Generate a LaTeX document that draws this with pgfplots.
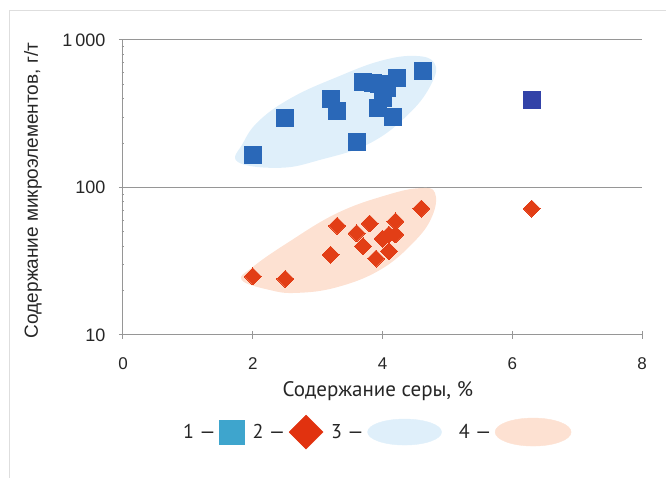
\documentclass[border=0pt]{standalone}
\usepackage{pgfplots}
\pgfplotsset{compat=1.18}
\usepackage{fontspec}
\setmainfont{Liberation Sans}
\newfontfamily\ptsans{PT Sans}
\definecolor{bsq}{RGB}{42,104,184}
\definecolor{navysq}{RGB}{50,66,168}
\definecolor{rdi}{RGB}{226,62,22}
\definecolor{bfill}{RGB}{223,239,250}
\definecolor{rfill}{RGB}{253,225,210}
\definecolor{lsq}{RGB}{62,165,205}
\definecolor{ldi}{RGB}{225,50,15}
\definecolor{axgray}{RGB}{150,150,150}
\definecolor{framegray}{RGB}{222,222,222}
\begin{document}
\begin{tikzpicture}
\useasboundingbox (0,0) rectangle (666pt,478pt);
\begin{axis}[
  at={(123pt,143pt)}, anchor=south west,
  width=519pt, height=295pt, scale only axis,
  xmin=0, xmax=8, ymode=log, ymin=10, ymax=1000,
  xtick={0,2,4,6,8}, ytick={10,100,1000},
  yticklabels={10,100,1\,000},
  axis x line*=bottom, axis y line*=left,
  ymajorgrids=true,
  grid style={axgray, line width=1pt},
  axis line style={axgray, line width=1pt},
  tick style={axgray, line width=1pt},
  tick align=center, major tick length=8pt,
  /pgf/number format/assume math mode=true,
  tick label style={font=\fontsize{17}{17}\selectfont, text=black!85},
  xticklabel style={yshift=-15pt},
  yticklabel style={font=\fontsize{18}{18}\selectfont, xshift=-10pt},
  xlabel={Содержание серы, \%},
  xlabel style={font=\ptsans\fontsize{21}{21}\selectfont, text=black!85, at={(axis description cs:0.491,-0.19)}, anchor=center},
  ylabel={Содержание микроэлементов, г/т},
  ylabel style={font=\fontsize{19}{19}\selectfont, text=black!85, at={(axis description cs:-0.1734,0.49)}, anchor=center},
  legend columns=-1,
  legend plot pos=right,
  legend style={draw=none, fill=none, at={(axis description cs:0.4865,-0.329)}, anchor=center,
    font=\ptsans\fontsize{20}{20}\selectfont, text=black!85,
    nodes={inner xsep=3.5pt, inner ysep=0pt},
    /tikz/every even column/.append style={column sep=4.5pt}},
]
% regions
\addplot[forget plot, smooth cycle, tension=0.7, fill=bfill, draw=none] coordinates {
 (1.77,149) (2.42,136) (3.04,154) (3.81,200) (4.42,320) (4.76,511) (4.80,698)
 (4.50,780) (3.96,720) (3.30,561) (2.62,411) (2.11,287) (1.85,200)};
\addplot[forget plot, smooth cycle, tension=0.7, fill=rfill, draw=none] coordinates {
 (1.83,23.6) (2.26,20.2) (2.68,19.3) (3.30,21.1) (3.96,27.6) (4.47,42.1) (4.76,63)
 (4.81,91.8) (4.58,99) (4.07,89) (3.30,67) (2.53,42) (2.00,28.9)};
% points
\addplot[forget plot, color=bsq, only marks, mark=square*, mark size=8.5pt, mark options={fill=bsq, draw=bsq, line width=0pt}] coordinates {
 (2.0,165) (2.5,298) (3.2,400) (3.3,330) (3.6,203) (3.7,520) (3.85,510) (3.95,500)
 (4.22,550) (4.07,475) (3.93,345) (4.0,405) (4.16,300) (4.62,620)};
\addplot[forget plot, color=navysq, only marks, mark=square*, mark size=8.5pt, mark options={fill=navysq, draw=navysq, line width=0pt}] coordinates {
 (6.3,395)};
\addplot[forget plot, color=rdi, only marks, mark=square*, mark size=6pt, mark options={fill=rdi, draw=rdi, line width=0pt, rotate=45}] coordinates {
 (2.0,25) (2.5,24) (3.2,35) (3.3,55) (3.6,49) (3.7,40) (3.8,57) (3.9,33)
 (4.0,45) (4.1,48) (4.2,59) (4.1,37) (4.2,48) (4.6,72) (6.3,72)};
% legend
\addlegendimage{legend image code/.code={\fill[lsq] (0pt,-12pt) rectangle (25pt,12pt);}}
\addlegendentry{1 —}
\addlegendimage{legend image code/.code={\fill[ldi] (0pt,0pt) -- (17pt,17pt) -- (34pt,0pt) -- (17pt,-17pt) -- cycle;}}
\addlegendentry{2 —}
\addlegendimage{legend image code/.code={\fill[bfill] (37pt,0pt) ellipse (37pt and 13pt);}}
\addlegendentry{3 —}
\addlegendimage{legend image code/.code={\fill[rfill] (38pt,0pt) ellipse (38pt and 14pt);}}
\addlegendentry{\hspace{9pt}4 —}
\end{axis}
\draw[framegray, line width=1pt] (9pt,0pt) -- (9pt,467pt) -- (666pt,467pt);
\end{tikzpicture}
\end{document}
